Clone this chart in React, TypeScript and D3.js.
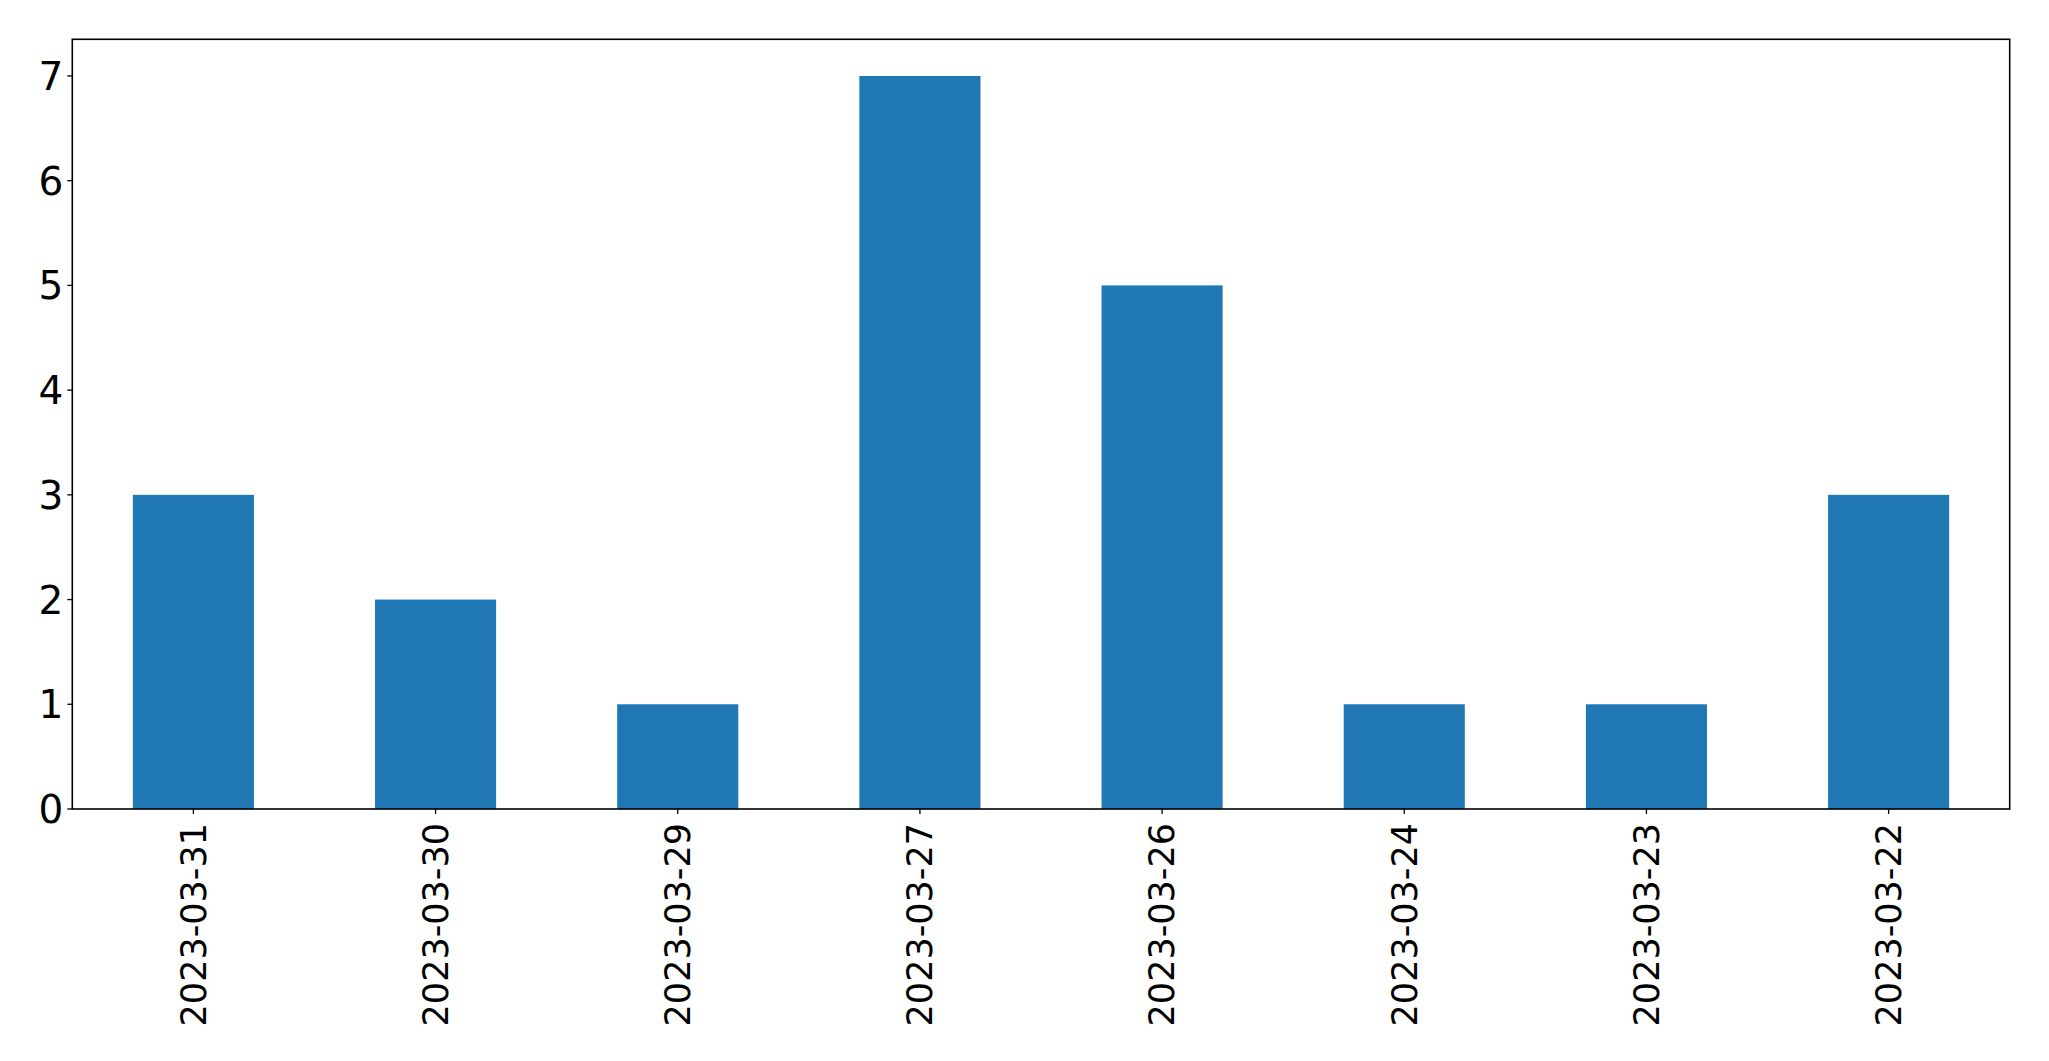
import React from "react";
import * as d3 from "d3";

const categories = ["2023-03-31", "2023-03-30", "2023-03-29", "2023-03-27", "2023-03-26", "2023-03-24", "2023-03-23", "2023-03-22"];
const values = [3, 2, 1, 7, 5, 1, 1, 3];
const yTicks = [0, 1, 2, 3, 4, 5, 6, 7];

const W = 2049;
const H = 1061;
const left = 72.3;
const right = 2009.7;
const top = 39.3;
const bottom = 809;
const FONT = "DejaVu Sans, sans-serif";
const FS = 35;
const FSY = 39;

export default function App() {
  const x = d3.scaleLinear().domain([-0.5, categories.length - 0.5]).range([left, right]);
  const y = d3.scaleLinear().domain([0, 7.35]).range([bottom, top]);
  const bw = x(0.25) - x(-0.25);
  return (
    <svg width={W} height={H} style={{ position: "absolute", left: 0, top: 0, background: "#fff" }}>
      <rect x={0} y={0} width={W} height={H} fill="#fff" />
      {values.map((v, i) => (
        <rect key={i} x={x(i) - bw / 2} y={y(v)} width={bw} height={y(0) - y(v)} fill="#1f77b4" />
      ))}
      <rect x={left} y={top} width={right - left} height={bottom - top} fill="none" stroke="#000" strokeWidth={1.6} />
      {yTicks.map((t) => (
        <g key={t}>
          <line x1={left - 5} x2={left} y1={y(t)} y2={y(t)} stroke="#000" strokeWidth={1.3} />
          <text x={left - 9} y={y(t)} dy="0.36em" textAnchor="end" fontFamily={FONT} fontSize={FSY} fill="#000">{t}</text>
        </g>
      ))}
      {categories.map((c, i) => (
        <g key={c}>
          <line x1={x(i)} x2={x(i)} y1={bottom} y2={bottom + 5} stroke="#000" strokeWidth={1.3} />
          <text transform={`translate(${x(i)},${bottom + 14}) rotate(-90)`} dy="0.35em" textAnchor="end" fontFamily={FONT} fontSize={FS} fill="#000">{c}</text>
        </g>
      ))}
    </svg>
  );
}
